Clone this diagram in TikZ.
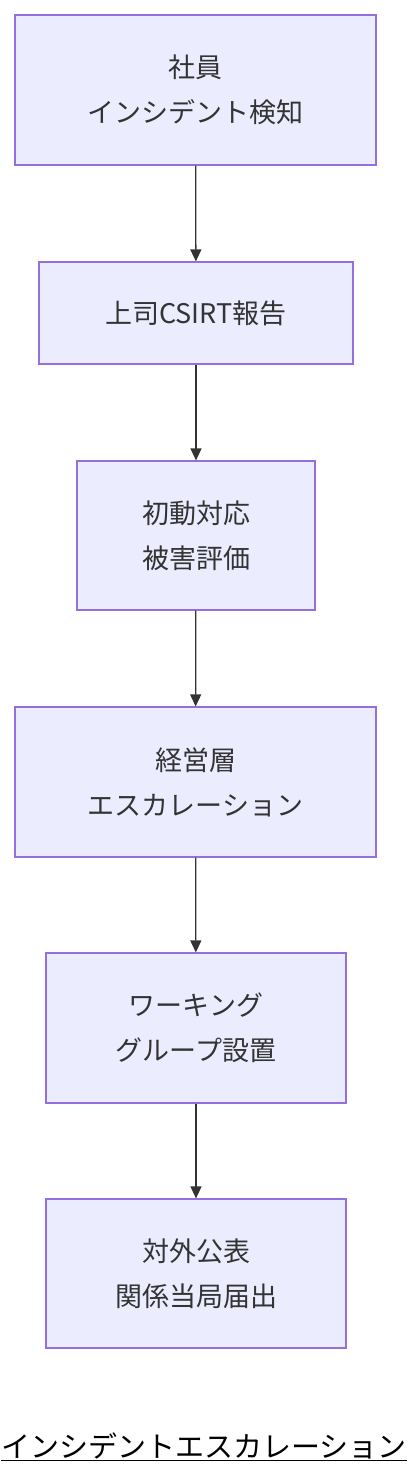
\documentclass[tikz,border=0pt]{standalone}
\usepackage{fontspec}
\setmainfont{Noto Sans CJK JP}
\usetikzlibrary{arrows.meta}
\definecolor{bfill}{HTML}{ECECFF}
\definecolor{bdraw}{HTML}{9370DB}
\definecolor{arr}{HTML}{333333}
\begin{document}
\begin{tikzpicture}[x=1pt,y=-1pt,
  box/.style={draw=bdraw,fill=bfill,line width=1.2pt,align=center,inner sep=0pt,
    font=\fontsize{27}{45}\selectfont,text=arr},
  link/.style={draw=arr,line width=1.3pt,-{Triangle[length=12pt,width=11pt]}}]
\useasboundingbox (0,0) rectangle (408,1484);
\clip (0,0) rectangle (408,1484);
\fill[white] (0,0) rectangle (408,1484);
\node[box,minimum width=361pt,minimum height=150pt] (a) at (195.5,90) {社員\\インシデント検知};
\node[box,minimum width=314pt,minimum height=102pt] (b) at (196,313) {上司CSIRT報告};
\node[box,minimum width=238pt,minimum height=149pt] (c) at (196,535.5) {初動対応\\被害評価};
\node[box,minimum width=361pt,minimum height=150pt] (d) at (195.5,782) {経営層\\エスカレーション};
\node[box,minimum width=300pt,minimum height=150pt] (e) at (196,1028) {ワーキング\\グループ設置};
\node[box,minimum width=300pt,minimum height=149pt] (f) at (196,1273.5) {対外公表\\関係当局届出};
\draw[link] (a) -- (b);
\draw[link] (b) -- (c);
\draw[link] (c) -- (d);
\draw[link] (d) -- (e);
\draw[link] (e) -- (f);
\node[font=\fontsize{29}{32}\selectfont,inner sep=0pt] (t) at (204,1447) {\underline{インシデントエスカレーション}};
\end{tikzpicture}
\end{document}
